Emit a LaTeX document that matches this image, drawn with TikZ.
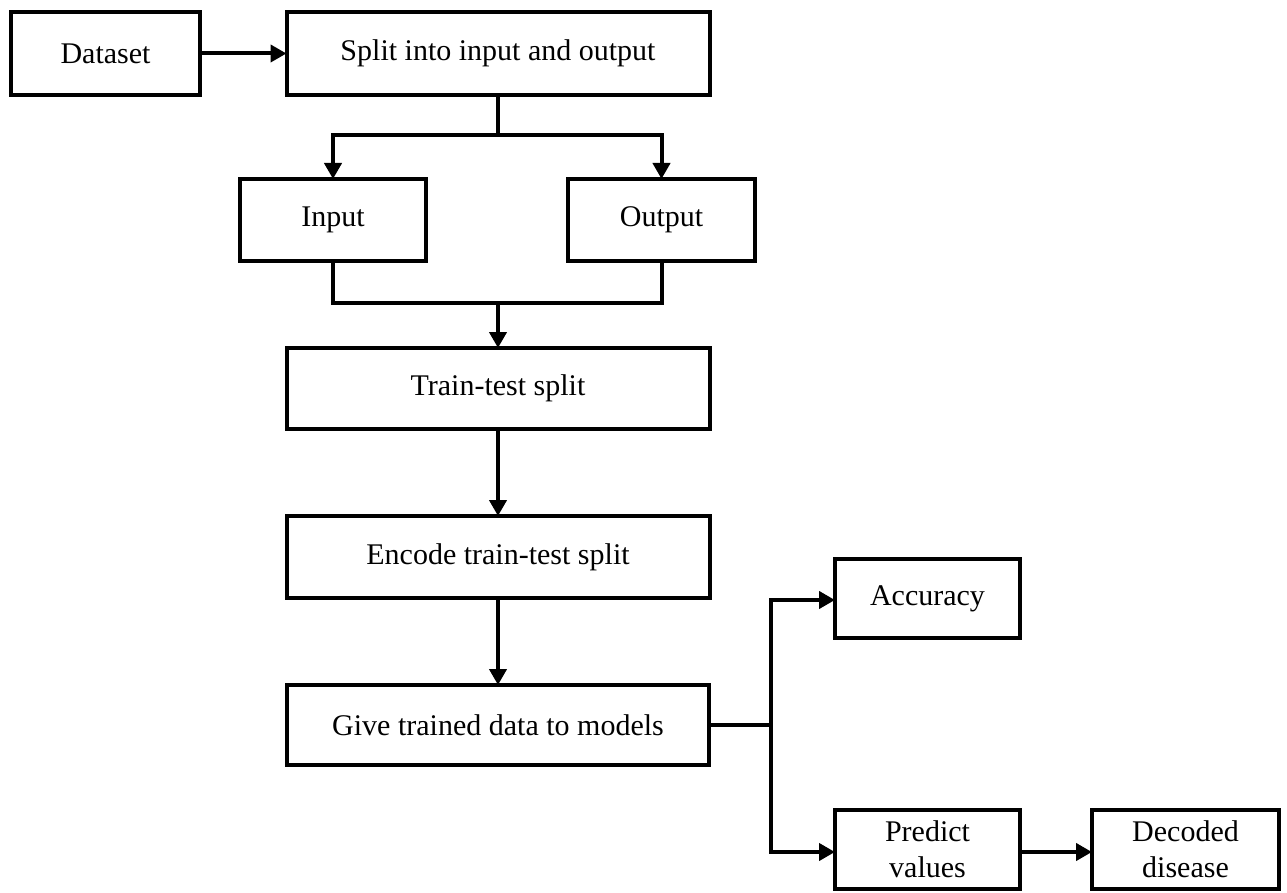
\documentclass[tikz,border=0pt]{standalone}
\usepackage{fontspec}
\setmainfont{Liberation Serif}
\usetikzlibrary{arrows.meta}

\begin{document}
\begin{tikzpicture}[x=1pt, y=-1pt,
  box/.style={draw=black, line width=4pt, rectangle, inner sep=0pt, outer sep=0pt,
    align=center, font=\fontsize{30}{36}\selectfont},
  link/.style={line width=4pt, draw=black},
  arr/.style={link, -{Triangle[length=16pt, width=17pt]}}]

  % page frame
  \useasboundingbox (0,0) rectangle (1287,893);

  % process boxes (centre, centre-line width and height)
  \node[box, minimum width=189pt, minimum height=83pt] (data)   at (105.5,53.5) {Dataset};
  \node[box, minimum width=423pt, minimum height=83pt] (split)  at (498,53.5)   {Split into input and output};
  \node[box, minimum width=186pt, minimum height=82pt] (input)  at (333,220)    {Input};
  \node[box, minimum width=187pt, minimum height=82pt] (output) at (661.5,220)  {Output};
  \node[box, minimum width=423pt, minimum height=81pt] (train)  at (498,388.5)  {Train-test split};
  \node[box, minimum width=423pt, minimum height=82pt] (encode) at (498,557)    {Encode train-test split};
  \node[box, minimum width=422pt, minimum height=80pt] (give)   at (498,725)    {Give trained data to models};
  \node[box, minimum width=185pt, minimum height=79pt] (acc)    at (927.5,598.5) {Accuracy};
  \node[box, minimum width=185pt, minimum height=79pt] (pred)   at (927.5,849.5) {Predict\\values};
  \node[box, minimum width=187pt, minimum height=79pt] (dec)    at (1185.5,849.5) {Decoded\\disease};

  % junction points of the branching lines
  \coordinate (fork)  at (498,135);
  \coordinate (merge) at (498,303);
  \coordinate (bus)   at (771,725);

  % connectors
  \draw[arr] (data.east) -- (split.west);
  \draw[link] (split.south) -- (fork);
  \draw[arr] (fork) -| (input.north);
  \draw[arr] (fork) -| (output.north);
  \draw[link] (input.south) |- (merge);
  \draw[link] (output.south) |- (merge);
  \draw[arr] (merge) -- (train.north);
  \draw[arr] (train.south) -- (encode.north);
  \draw[arr] (encode.south) -- (give.north);
  \draw[link] (give.east) -- (bus);
  \draw[arr] (bus) |- ([yshift=-1.5pt]acc.west);
  \draw[arr] (bus) |- ([yshift=-2.5pt]pred.west);
  \draw[arr] ([yshift=-2.5pt]pred.east) -- ([yshift=-2.5pt]dec.west);
\end{tikzpicture}
\end{document}
